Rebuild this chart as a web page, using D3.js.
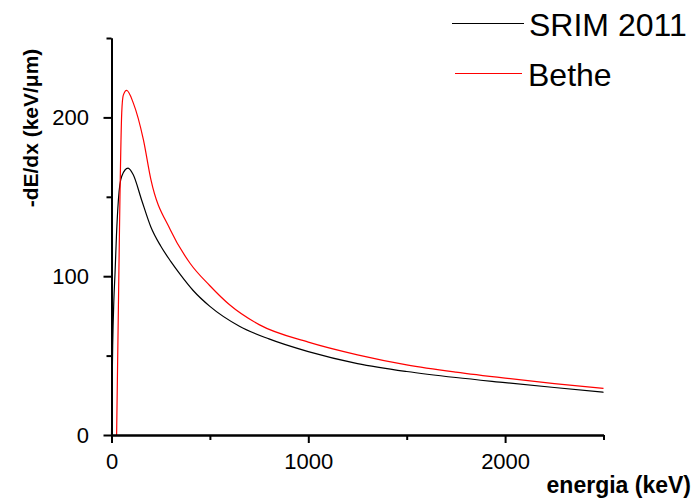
<!DOCTYPE html>
<html>
<head>
<meta charset="utf-8">
<script src="https://cdn.jsdelivr.net/npm/d3@7"></script>
<style>
  html, body { margin: 0; padding: 0; background: #fff; }
  svg { display: block; font-family: "Liberation Sans", Arial, sans-serif; }
</style>
</head>
<body>
<svg id="chart" width="693" height="503"></svg>
<script>
// Stopping power vs energy: SRIM 2011 tables and Bethe formula
const srimEnergy = [0, 3, 6, 12, 18, 25, 35, 52, 84, 110, 153, 200, 250, 300, 350, 415, 500, 650, 800, 1000, 1250, 1500, 1750, 2000, 2250, 2500];
const srimValues = [0, 30, 56, 85, 102, 125, 148, 163, 168, 164, 148, 131, 119, 109.5, 101, 91, 81, 68.5, 60.5, 52.5, 45, 40, 36.2, 33, 29.9, 26.9];

const betheEnergy = [26, 35, 43, 52, 60, 77, 111, 162, 200, 300, 400, 500, 600, 750, 1000, 1250, 1500, 1750, 2000, 2250, 2500];
const betheValues = [0, 80, 150, 203, 214, 217, 209, 186, 161, 129, 108, 94, 82, 69.5, 58.5, 50.5, 44.2, 39.6, 35.8, 32.4, 29.4];

const xMajorTicks = [0, 1000, 2000];
const xMinorTicks = [500, 1500, 2500];
const yMajorTicks = [0, 100, 200];
const yMinorTicks = [50, 150, 250];

const seriesNames = ["SRIM 2011", "Bethe"];
const seriesColors = ["#000000", "#ff0000"];

const margin = { left: 111.5, right: 89.5, top: 38, bottom: 68 };
const W = 693, H = 503;

const svg = d3.select("#chart");

const x = d3.scaleLinear().domain([0, 2500]).range([margin.left, W - margin.right]);
const y = d3.scaleLinear().domain([0, 250]).range([H - margin.bottom, margin.top]);

// curves
const line = d3.line()
  .x(d => x(d[0]))
  .y(d => y(d[1]))
  .curve(d3.curveMonotoneX);

const series = [
  d3.zip(srimEnergy, srimValues),
  d3.zip(betheEnergy, betheValues)
];

const plot = svg.append("g");
series.forEach((s, i) => {
  plot.append("path")
    .datum(s)
    .attr("fill", "none")
    .attr("stroke", seriesColors[i])
    .attr("stroke-width", 1.2)
    .attr("d", line);
});

// axes
function styleAxis(g) {
  g.selectAll(".domain").attr("stroke", "#000").attr("stroke-width", 2);
  g.selectAll(".tick line").attr("stroke", "#000").attr("stroke-width", 2);
  g.selectAll(".tick text")
    .attr("fill", "#000")
    .style("font-size", "22px")
    .style("font-family", "'Liberation Sans', Arial, sans-serif");
}

const y0 = y(0);

svg.append("g")
  .attr("transform", `translate(0,${y0})`)
  .call(d3.axisBottom(x).tickValues(xMinorTicks).tickSize(5).tickSizeOuter(0).tickFormat(""))
  .call(styleAxis);
svg.append("g")
  .attr("transform", `translate(0,${y0})`)
  .call(d3.axisBottom(x).tickValues(xMajorTicks).tickSize(8).tickSizeOuter(0).tickPadding(10).tickFormat(d3.format("d")))
  .call(styleAxis);

svg.append("g")
  .attr("transform", `translate(${x(0)},0)`)
  .call(d3.axisLeft(y).tickValues(yMinorTicks).tickSize(5).tickSizeOuter(0).tickFormat(""))
  .call(styleAxis);
svg.append("g")
  .attr("transform", `translate(${x(0)},0)`)
  .call(d3.axisLeft(y).tickValues(yMajorTicks).tickSize(8).tickSizeOuter(0).tickPadding(14.5).tickFormat(d3.format("d")))
  .call(styleAxis);

// axis titles
svg.append("text")
  .attr("x", 691)
  .attr("y", 493)
  .attr("text-anchor", "end")
  .style("font-size", "23px")
  .style("font-weight", "bold")
  .text("energia (keV)");

svg.append("text")
  .attr("transform", "translate(38,128) rotate(-90)")
  .attr("text-anchor", "middle")
  .style("font-size", "21px")
  .style("font-weight", "bold")
  .text("-dE/dx (keV/μm)");

// legend
const legend = svg.append("g");
const legendRows = [{ y: 23.5, lx0: 452, lx1: 524, tx: 529, ty: 35.5 },
                    { y: 73.5, lx0: 455, lx1: 522, tx: 528, ty: 86 }];
seriesNames.forEach((name, i) => {
  const r = legendRows[i];
  legend.append("line")
    .attr("x1", r.lx0).attr("x2", r.lx1)
    .attr("y1", r.y).attr("y2", r.y)
    .attr("stroke", seriesColors[i])
    .attr("stroke-width", 1.2);
  legend.append("text")
    .attr("x", r.tx)
    .attr("y", r.ty)
    .style("font-size", "32px")
    .text(name);
});
</script>
</body>
</html>
